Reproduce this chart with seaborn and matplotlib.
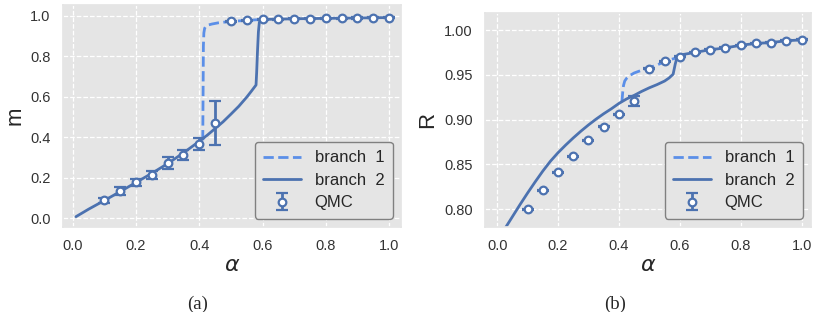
import numpy as np
import pandas as pd
import matplotlib
matplotlib.use('Agg')
import matplotlib.pyplot as plt
import seaborn as sns

# QMC points (shared alpha grid)
qmc_alpha = [0.10, 0.15, 0.20, 0.25, 0.30, 0.35, 0.40, 0.45, 0.50, 0.55,
             0.60, 0.65, 0.70, 0.75, 0.80, 0.85, 0.90, 0.95, 1.00]
qmc_m = [0.088, 0.135, 0.178, 0.214, 0.273, 0.313, 0.368, 0.471, 0.972, 0.977,
         0.982, 0.983, 0.985, 0.986, 0.987, 0.988, 0.989, 0.990, 0.991]
qmc_m_err = [0.012, 0.020, 0.018, 0.020, 0.030, 0.025, 0.030, 0.107, 0.004, 0.004,
             0.003, 0.003, 0.003, 0.003, 0.003, 0.003, 0.003, 0.003, 0.003]
qmc_R = [0.800, 0.821, 0.841, 0.859, 0.877, 0.892, 0.906, 0.921, 0.957, 0.965,
         0.970, 0.975, 0.978, 0.980, 0.983, 0.985, 0.986, 0.988, 0.989]
qmc_R_err = [0.0005, 0.0005, 0.0005, 0.0005, 0.0005, 0.0005, 0.0005, 0.0056, 0.0005, 0.0005,
             0.0005, 0.0005, 0.0005, 0.0005, 0.0005, 0.0005, 0.0005, 0.0005, 0.0005]

# branch 1 (dashed)
b1_m_alpha = [0.411, 0.412, 0.413, 0.4145, 0.417, 0.421, 0.428, 0.44, 0.46, 0.50,
              0.55, 0.60]
b1_m = [0.385, 0.60, 0.85, 0.915, 0.938, 0.948, 0.954, 0.959, 0.965, 0.972,
        0.977, 0.982]
b1_R_alpha = [0.410, 0.4125, 0.415, 0.419, 0.425, 0.435, 0.45, 0.47, 0.50, 0.525,
              0.55, 0.575, 0.60]
b1_R = [0.920, 0.931, 0.938, 0.943, 0.946, 0.949, 0.952, 0.9545, 0.958, 0.961,
        0.9645, 0.9675, 0.970]

# branch 2 (solid)
b2_m_alpha = [0.01, 0.05, 0.10, 0.15, 0.20, 0.25, 0.30, 0.35, 0.40, 0.425, 0.45,
              0.475, 0.50, 0.525, 0.55, 0.565, 0.5795, 0.5815, 0.584, 0.587,
              0.590, 0.595, 0.60, 0.65, 0.70, 0.75, 0.80, 0.85, 0.90, 0.95, 1.00]
b2_m = [0.008, 0.045, 0.088, 0.132, 0.177, 0.222, 0.270, 0.323, 0.380, 0.410, 0.443,
        0.476, 0.514, 0.553, 0.598, 0.628, 0.658, 0.720, 0.820, 0.920,
        0.968, 0.978, 0.982, 0.983, 0.985, 0.986, 0.987, 0.988, 0.989, 0.990, 0.991]
b2_R_alpha = [0.01, 0.025, 0.05, 0.075, 0.10, 0.125, 0.15, 0.175, 0.20, 0.225, 0.25,
              0.275, 0.30, 0.325, 0.35, 0.375, 0.40, 0.425, 0.45, 0.475, 0.50,
              0.525, 0.55, 0.565, 0.578, 0.585, 0.592, 0.60, 0.65, 0.70, 0.75,
              0.80, 0.85, 0.90, 0.95, 1.00]
b2_R = [0.769, 0.778, 0.7915, 0.805, 0.818, 0.8305, 0.8425, 0.8535, 0.863, 0.8715,
        0.8795, 0.887, 0.894, 0.9005, 0.9065, 0.912, 0.918, 0.923, 0.927, 0.9315,
        0.9355, 0.939, 0.943, 0.9465, 0.9506, 0.962, 0.971, 0.972, 0.975, 0.978,
        0.980, 0.983, 0.985, 0.986, 0.988, 0.989]

sns.set_theme(style='darkgrid', rc={
    'axes.facecolor': '#E5E5E5',
    'grid.color': 'white',
    'grid.linestyle': '--',
    'grid.linewidth': 0.9,
    'axes.edgecolor': '#E5E5E5',
})
plt.rcParams['font.family'] = ['Liberation Sans', 'DejaVu Sans']
plt.rcParams['mathtext.fontset'] = 'dejavusans'

c_solid = '#4C72B0'
c_dash = '#5B8FE8'

fig = plt.figure(figsize=(8.13, 3.12), dpi=100)
ax1 = fig.add_axes([63 / 813, 85 / 312, 338 / 813, 222 / 312])
ax2 = fig.add_axes([485 / 813, 85 / 312, 326 / 813, 214 / 312])


def panel(ax, a1, y1, a2, y2, yq, yerr):
    sns.lineplot(x=a1, y=y1, ax=ax, color=c_dash, linestyle='--', lw=2,
                 sort=False, label='branch  1')
    sns.lineplot(x=a2, y=y2, ax=ax, color=c_solid, lw=2, sort=False,
                 label='branch  2')
    ax.errorbar(qmc_alpha, yq, yerr=yerr, fmt='o', color=c_solid, mfc='white',
                mec=c_solid, mew=1.6, ms=5.5, elinewidth=2, capsize=4,
                capthick=2, label='QMC', zorder=5)
    ax.set_xticks([0.0, 0.2, 0.4, 0.6, 0.8, 1.0])
    ax.tick_params(labelsize=10.5, pad=3, colors='#333333')
    ax.set_xlabel(r'$\alpha$', fontsize=16, labelpad=1)
    ax.legend(loc='lower right', fontsize=12, facecolor='#E5E5E5',
              edgecolor='#808080', framealpha=1, borderpad=0.5,
              labelspacing=0.45, handlelength=2.3)


panel(ax1, b1_m_alpha, b1_m, b2_m_alpha, b2_m, qmc_m, qmc_m_err)
ax1.set_xlim(-0.031, 1.038)
ax1.set_ylim(-0.043, 1.053)
ax1.set_yticks([0.0, 0.2, 0.4, 0.6, 0.8, 1.0])
ax1.set_ylabel('m', fontsize=16, labelpad=3)

panel(ax2, b1_R_alpha, b1_R, b2_R_alpha, b2_R, qmc_R, qmc_R_err)
ax2.set_xlim(-0.040, 1.031)
ax2.set_ylim(0.780, 1.019)
ax2.set_yticks([0.80, 0.85, 0.90, 0.95, 1.00])
ax2.set_ylabel('R', fontsize=16, labelpad=4)

fig.text(198 / 813, 1 - 304 / 312, '(a)', ha='center', va='center',
         fontsize=13.5, family='Liberation Serif')
fig.text(615 / 813, 1 - 304 / 312, '(b)', ha='center', va='center',
         fontsize=13.5, family='Liberation Serif')

plt.savefig('out.png', dpi=100)
